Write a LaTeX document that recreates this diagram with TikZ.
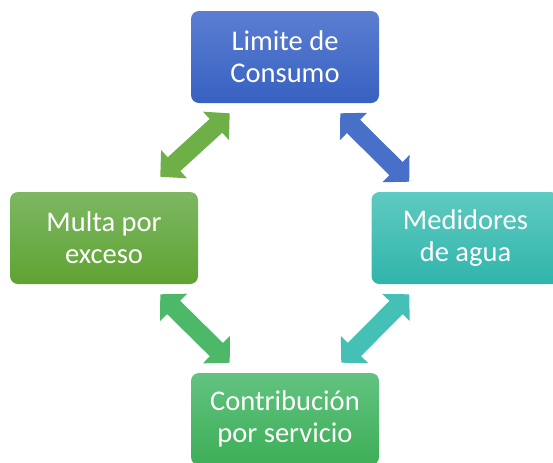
\documentclass[tikz,border=0pt]{standalone}
\usepackage{fontspec}
\setmainfont{Carlito}
\usetikzlibrary{arrows.meta,positioning}

\definecolor{limtop}{HTML}{5B7ED1}
\definecolor{limbot}{HTML}{3761C1}
\definecolor{multop}{HTML}{7DB763}
\definecolor{mulbot}{HTML}{5FA332}
\definecolor{medtop}{HTML}{5FCAC1}
\definecolor{medbot}{HTML}{30B5AB}
\definecolor{contop}{HTML}{62C380}
\definecolor{conbot}{HTML}{3DAE57}
\definecolor{arrblue}{HTML}{4870C9}
\definecolor{arrgreen}{HTML}{6EAF47}
\definecolor{arrteal}{HTML}{45C0B6}
\definecolor{arrlime}{HTML}{4DB968}

\begin{document}
\begin{tikzpicture}[x=0.75pt,y=-0.75pt]
  %----- styles
  \tikzset{
    box/.style  ={rounded corners=6pt,minimum width=141pt,minimum height=69pt,align=center,
                  text=white,font=\fontsize{21.4}{24}\selectfont},
    dbl/.style  ={{Triangle[width=28pt,length=14pt]}-{Triangle[width=28pt,length=14pt]},line width=14pt}
  }
  \useasboundingbox (0,0) rectangle (553,462);

  %----- nodes
  \node[box,top color=limtop,bottom color=limbot] (lim) at (285,57)    {Limite de\\Consumo};
  \node[box,top color=multop,bottom color=mulbot] (mul) at (104,238)   {Multa por\\exceso};
  \node[box,top color=medtop,bottom color=medbot] (med) at (465.5,238) {Medidores\\de agua};
  \node[box,top color=contop,bottom color=conbot] (con) at (285,419)   {Contribución\\por servicio};

  %----- connections
  \draw[dbl,arrgreen] ([shift={(-38,-15)}]mul.north east) -- ([shift={(39,10)}]lim.south west);
  \draw[dbl,arrblue]  ([shift={(-39,10)}]lim.south east)  -- ([shift={(38,-10)}]med.north west);
  \draw[dbl,arrlime]  ([shift={(-38,10)}]mul.south east)  -- ([shift={(39,-10)}]con.north west);
  \draw[dbl,arrteal]  ([shift={(38,10)}]med.south west)   -- ([shift={(-38,-10)}]con.north east);
\end{tikzpicture}
\end{document}
